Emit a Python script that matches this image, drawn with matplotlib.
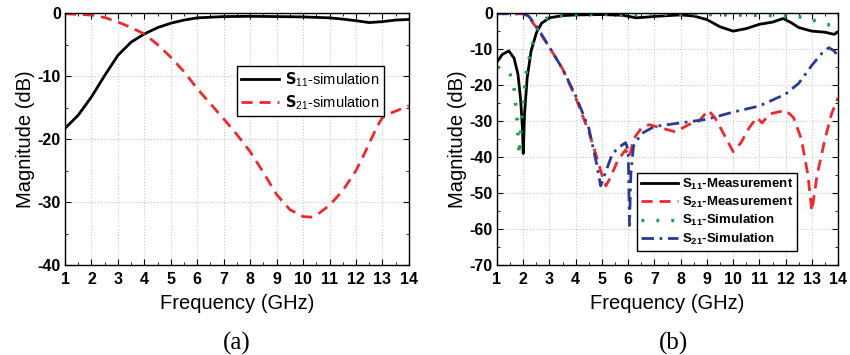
import numpy as np
import matplotlib.pyplot as plt
from matplotlib.ticker import MultipleLocator

plt.rcParams['font.family'] = ['Liberation Sans', 'DejaVu Sans']
plt.rcParams['axes.unicode_minus'] = False
plt.rcParams['mathtext.default'] = 'regular'

# ---- panel (a): simulation ----
fa_s11 = [1, 1.5, 2, 2.5, 3, 3.5, 4, 4.5, 5, 5.5, 6, 7, 8, 9, 10, 11, 11.5, 12, 12.5, 13, 13.5, 14]
a_s11 = [-18.3, -16.2, -13.3, -9.9, -6.7, -4.6, -3.3, -2.3, -1.6, -1.1, -0.75, -0.55, -0.5, -0.55,
         -0.6, -0.75, -0.95, -1.2, -1.5, -1.35, -1.1, -1.0]
fa_s21 = [1, 1.5, 2, 2.5, 3, 3.5, 4, 4.5, 5, 5.5, 6, 6.5, 7, 7.5, 8, 8.5, 9, 9.5, 10, 10.3, 10.6,
          11, 11.5, 12, 12.3, 12.6, 12.8, 13, 13.3, 13.6, 14]
a_s21 = [-0.1, -0.2, -0.3, -0.7, -1.4, -2.3, -3.3, -5.0, -7.0, -9.3, -12.0, -14.4, -16.8, -19.3,
         -22.0, -25.3, -28.8, -31.2, -32.3, -32.4, -31.8, -30.5, -28.2, -25.0, -22.5, -19.8,
         -18.0, -16.6, -15.9, -15.4, -14.7]

# ---- panel (b): measurement vs simulation ----
fb_s11m = [1, 1.2, 1.45, 1.65, 1.8, 1.9, 1.97, 2.0, 2.05, 2.15, 2.3, 2.5, 2.7, 3, 3.5, 4, 5, 5.8,
           6.3, 6.7, 7, 8, 8.5, 9, 9.5, 10, 10.5, 11, 11.5, 11.9, 12.2, 12.5, 13, 13.5, 13.85, 14]
b_s11m = [-13.6, -11.5, -10.5, -12.5, -17, -24, -32, -39, -28, -18, -10.5, -5.5, -2.8, -1.3, -0.7,
          -0.5, -0.4, -0.6, -1.3, -1.1, -0.9, -0.5, -0.8, -1.8, -3.8, -5.0, -4.3, -3.1, -2.5,
          -1.5, -2.6, -4.0, -5.0, -5.3, -5.9, -5.2]
fb_s21m = [1, 1.5, 2, 2.2, 2.5, 3, 3.5, 4, 4.5, 4.8, 5.0, 5.15, 5.3, 5.6, 5.9, 6.05, 6.2, 6.5, 6.8,
           7.3, 7.8, 8.3, 8.7, 9.05, 9.3, 9.6, 10.0, 10.3, 10.6, 10.9, 11.1, 11.4, 11.7, 12.0,
           12.3, 12.6, 12.85, 13.0, 13.2, 13.5, 13.75, 14]
b_s21m = [-0.2, -0.2, -0.2, -1.0, -4.0, -9.5, -15.5, -23.5, -33, -40, -45, -48, -46, -41, -38,
          -40, -35, -32, -31, -32, -33, -31, -30, -27, -29, -33, -38.5, -36, -32, -29, -30.5,
          -28, -27.5, -27, -29, -35, -45, -55, -45, -35, -28, -23.5]
fb_s11s = [1, 1.3, 1.5, 1.65, 1.75, 1.85, 1.95, 2.1, 2.3, 2.5, 2.7, 3, 4, 5, 6, 7, 8, 9, 10, 11,
           12, 12.5, 12.9, 13.4, 13.7, 13.9, 14]
b_s11s = [-15, -15.5, -17, -21, -28, -39.5, -28, -17, -10, -5, -2.2, -1.0, -0.4, -0.3, -0.3, -0.3,
          -0.3, -0.4, -0.5, -0.6, -0.8, -1.0, -1.5, -3.0, -3.3, -1.0, -0.8]
fb_s21s = [1, 1.5, 2, 2.2, 2.5, 3, 3.5, 4, 4.5, 4.8, 4.95, 5.1, 5.4, 5.7, 5.9, 6.0, 6.05, 6.1,
           6.2, 6.5, 7, 8, 9, 10, 11, 12, 12.5, 13, 13.4, 13.65, 13.85, 14]
b_s21s = [-0.1, -0.1, -0.2, -0.8, -3.5, -9.5, -15.5, -23, -32, -42, -48, -45, -39, -37, -36,
          -38, -59, -45, -37, -33.5, -31.5, -30.5, -29.5, -27.5, -25.8, -22.5, -19.5, -14.5,
          -11, -9.6, -10.5, -12]

xticks = np.arange(1, 15)

fig = plt.figure(figsize=(8.5, 3.55), dpi=100)
ax1 = fig.add_axes([0.0765, 0.2535, 0.4045, 0.7095])
ax2 = fig.add_axes([0.5847, 0.2535, 0.4013, 0.7095])


def style(ax, ymin, ystep):
    ax.set_xlim(1, 14)
    ax.set_ylim(ymin, 0)
    ax.set_xticks(xticks)
    ax.set_yticks(np.arange(ymin, 1, ystep))
    ax.xaxis.set_minor_locator(MultipleLocator(0.5))
    ax.yaxis.set_minor_locator(MultipleLocator(ystep / 2))
    ax.tick_params(which='both', direction='in', top=True, right=True, labelsize=11.5)
    ax.tick_params(axis='x', pad=5)
    ax.tick_params(axis='y', pad=3)
    ax.tick_params(which='major', length=4)
    ax.tick_params(which='minor', length=2.5)
    for lab in ax.get_xticklabels() + ax.get_yticklabels():
        lab.set_fontweight('bold')
    ax.grid(True, which='major', color='#c8c8c8', linestyle=':', linewidth=0.8)
    ax.set_xlabel('Frequency (GHz)', fontsize=14.5, labelpad=5)
    ax.set_ylabel('Magnitude (dB)', fontsize=14.5, labelpad=2)
    for sp in ax.spines.values():
        sp.set_linewidth(1.0)


ax1.plot(fa_s11, a_s11, color='black', lw=2, label='$\\mathbf{S}_{11}$-simulation')
ax1.plot(fa_s21, a_s21, color='#ee2a2e', lw=2, dashes=(4, 2.5), label='$\\mathbf{S}_{21}$-simulation')
style(ax1, -40, 10)
ax1.legend(loc='upper left', bbox_to_anchor=(0.5, 0.79), fontsize=10.5, frameon=True,
           fancybox=False, edgecolor='black', framealpha=1, handlelength=2.6,
           borderpad=0.3, labelspacing=0.3, handletextpad=0.4, borderaxespad=0)

ax2.plot(fb_s11m, b_s11m, color='black', lw=2, label='S$_{11}$-Measurement')
ax2.plot(fb_s21m, b_s21m, color='#ee2a2e', lw=2, dashes=(4, 2.5), label='S$_{21}$-Measurement')
ax2.plot(fb_s11s, b_s11s, color='#1aa14a', lw=2.5, dashes=(0.8, 3.5), label='S$_{11}$-Simulation')
ax2.plot(fb_s21s, b_s21s, color='#2b3a97', lw=2, dashes=(4.5, 2, 1, 2), label='S$_{21}$-Simulation')
style(ax2, -70, 10)
ax2.legend(loc='upper left', bbox_to_anchor=(0.41, 0.367), frameon=True,
           fancybox=False, edgecolor='black', framealpha=1, handlelength=2.8,
           borderpad=0.3, labelspacing=0.25, handletextpad=0.3, borderaxespad=0,
           prop={'weight': 'bold', 'size': 9.5})

fig.text(0.2785, 0.015, '(a)', family='Liberation Serif', fontsize=18, ha='center')
fig.text(0.792, 0.015, '(b)', family='Liberation Serif', fontsize=18, ha='center')

fig.savefig('out.png', dpi=100)
